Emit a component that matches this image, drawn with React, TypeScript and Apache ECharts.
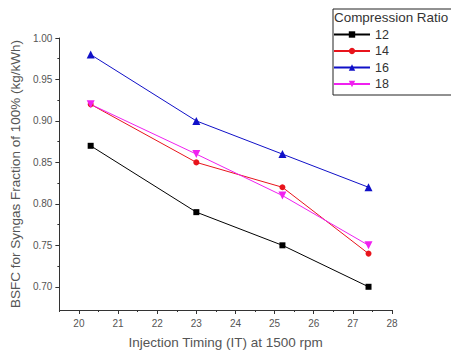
import React, { useEffect, useRef } from "react";
import * as echarts from "echarts";

const injectionTiming = [20.3, 23.0, 25.2, 27.4];
const cr12 = [0.87, 0.79, 0.75, 0.7];
const cr14 = [0.92, 0.85, 0.82, 0.74];
const cr16 = [0.98, 0.9, 0.86, 0.82];
const cr18 = [0.92, 0.86, 0.81, 0.75];
const seriesNames = ["12", "14", "16", "18"];
const yTickLabels = [0.7, 0.75, 0.8, 0.85, 0.9, 0.95, 1.0];
const yMinorTicks = [0.725, 0.775, 0.825, 0.875, 0.925, 0.975];
const xTickLabels = [20, 21, 22, 23, 24, 25, 26, 27, 28];
const xMinorTicks = [19.5, 20.5, 21.5, 22.5, 23.5, 24.5, 25.5, 26.5, 27.5];

const pair = (ys: number[]) => injectionTiming.map((x, i) => [x, ys[i]]);

export default function App() {
  const ref = useRef<HTMLDivElement>(null);
  useEffect(() => {
    if (!ref.current) return;
    const chart = echarts.init(ref.current, undefined, { renderer: "svg" });
    const font = "Liberation Sans, Arial, sans-serif";
    const axisColor = "#333";
    const yMin = 0.672, yMax = 1.0, xMin = 19.5, xMax = 28;
    const mkSeries = (name: string, data: number[], color: string, symbol: string, rotate = 0, size = 7) => ({
      name,
      type: "line",
      data: pair(data),
      symbol,
      symbolSize: size,
      symbolRotate: rotate,
      itemStyle: { color },
      lineStyle: { color, width: 1 },
      xAxisIndex: 0,
      yAxisIndex: 0,
    });
    chart.setOption({
      animation: false,
      backgroundColor: "#fff",
      grid: { left: 58, right: 59, top: 38, bottom: 46, containLabel: false },
      xAxis: [
        {
          type: "value",
          min: xMin,
          max: xMax,
          name: "Injection Timing (IT) at 1500 rpm",
          nameLocation: "middle",
          nameGap: 25,
          nameTextStyle: { fontFamily: font, fontSize: 13.5, color: "#555" },
          axisLine: { lineStyle: { color: axisColor, width: 1 } },
          axisTick: { show: true, length: 4, customValues: xTickLabels, lineStyle: { color: axisColor } },
          axisLabel: { customValues: xTickLabels, fontFamily: font, fontSize: 10, color: "#555", margin: 8 },
          splitLine: { show: false },
        },
        {
          type: "value",
          min: xMin,
          max: xMax,
          position: "bottom",
          axisLine: { show: false },
          axisTick: { show: true, length: 2, customValues: xMinorTicks, lineStyle: { color: axisColor } },
          axisLabel: { show: false },
          splitLine: { show: false },
        },
      ],
      yAxis: [
        {
          type: "value",
          min: yMin,
          max: yMax,
          name: "BSFC for Syngas Fraction of 100% (kg/kWh)",
          nameLocation: "middle",
          nameGap: 35,
          nameTextStyle: { fontFamily: font, fontSize: 13.5, color: "#555" },
          axisLine: { show: true, lineStyle: { color: axisColor, width: 1 } },
          axisTick: { show: true, length: 4, customValues: yTickLabels, lineStyle: { color: axisColor } },
          axisLabel: {
            customValues: yTickLabels,
            fontFamily: font,
            fontSize: 10,
            color: "#555",
            margin: 7,
            formatter: (v: number) => v.toFixed(2),
          },
          splitLine: { show: false },
        },
        {
          type: "value",
          min: yMin,
          max: yMax,
          position: "left",
          axisLine: { show: false },
          axisTick: { show: true, length: 2, customValues: yMinorTicks, lineStyle: { color: axisColor } },
          axisLabel: { show: false },
          splitLine: { show: false },
        },
      ],
      legend: {
        orient: "vertical",
        left: 333,
        top: 28,
        itemGap: 3.5,
        itemWidth: 36,
        itemHeight: 8,
        padding: 0,
        textStyle: { fontFamily: font, fontSize: 12.5, color: "#333" },
        data: seriesNames,
      },
      graphic: [
        {
          type: "rect",
          shape: { x: 333, y: 9, width: 130, height: 86 },
          style: { fill: "none", stroke: "#222", lineWidth: 1 },
          z: 10,
        },
        {
          type: "text",
          x: 334,
          y: 12,
          scaleX: 1.12,
          style: { text: "Compression Ratio", font: `12px ${font}`, fill: "#333" },
          z: 10,
        },
      ],
      series: [
        mkSeries("12", cr12, "#000000", "rect", 0, 6),
        mkSeries("14", cr14, "#e8141c", "circle", 0, 6),
        mkSeries("16", cr16, "#1010c8", "triangle", 0, 8),
        mkSeries("18", cr18, "#f020f0", "triangle", 180, 8),
      ],
    });
    return () => chart.dispose();
  }, []);
  return <div ref={ref} style={{ width: 451, height: 356, position: "absolute", left: 0, top: 0 }} />;
}
